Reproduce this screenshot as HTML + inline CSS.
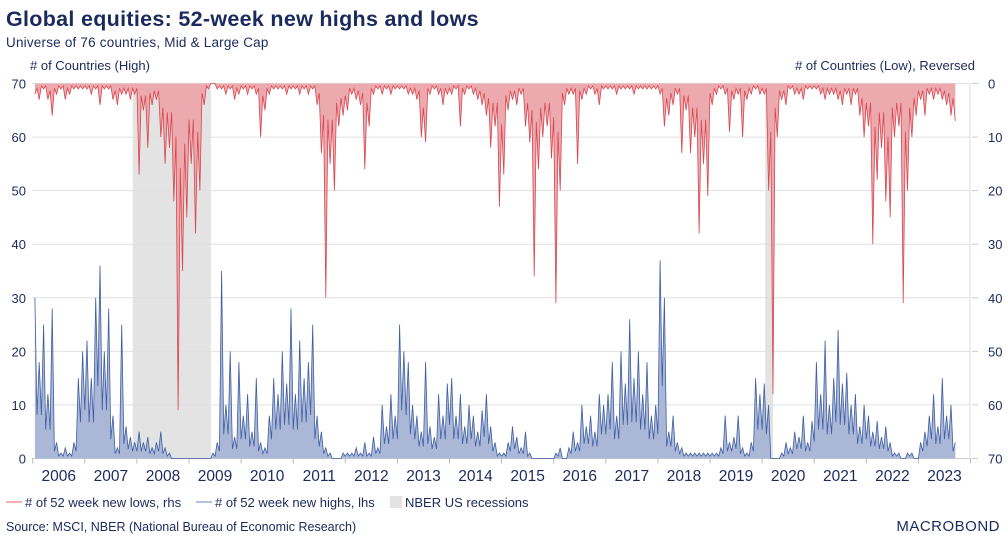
<!DOCTYPE html>
<html><head><meta charset="utf-8"><style>
body{margin:0;background:#fff;width:1008px;height:542px;overflow:hidden;font-family:"Liberation Sans",sans-serif;}
svg text{font-family:"Liberation Sans",sans-serif;}
</style></head><body>
<svg id="chart" width="1008" height="542" viewBox="0 0 1008 542">
<text x="6" y="26" font-size="21.5" font-weight="bold" fill="#1b2a5c" letter-spacing="0.3">Global equities: 52-week new highs and lows</text>
<text x="6" y="47" font-size="13.5" fill="#1b2a5c" letter-spacing="0.2">Universe of 76 countries, Mid &amp; Large Cap</text>
<text x="30" y="70" font-size="13" fill="#1b2a5c"># of Countries (High)</text>
<text x="975" y="70" font-size="13" fill="#1b2a5c" text-anchor="end"># of Countries (Low), Reversed</text>
<g id="plot"></g>
<g>
<line x1="6" y1="502" x2="22" y2="502" stroke="#e0606a" stroke-width="1"/>
<text x="25" y="507" font-size="13" fill="#1b2a5c"># of 52 week new lows, rhs</text>
<line x1="196" y1="502" x2="212" y2="502" stroke="#6d84bb" stroke-width="1"/>
<text x="215" y="507" font-size="13" fill="#1b2a5c"># of 52 week new highs, lhs</text>
<rect x="390" y="496" width="12" height="12" fill="#e3e3e3"/>
<text x="405" y="507" font-size="13" fill="#1b2a5c">NBER US recessions</text>
</g>
<text x="6" y="531" font-size="12.5" fill="#1b2a5c">Source: MSCI, NBER (National Bureau of Economic Research)</text>
<text x="1000" y="531" font-size="15" fill="#1b2a5c" text-anchor="end" letter-spacing="0.5">MACROBOND</text>
</svg>
<script>
const years=["2006","2007","2008","2009","2010","2011","2012","2013","2014","2015","2016","2017","2018","2019","2020","2021","2022","2023"];
const leftTicks=[0,10,20,30,40,50,60,70];
const rightTicks=[0,10,20,30,40,50,60,70];
const recessions=[[2007.92,2009.42],[2020.06,2020.21]];
const highs=[30,18,25,12,28,3,1,2,1,3,15,20,
22,15,30,36,20,28,8,2,25,6,4,3,
5,3,4,2,3,5,2,1,0,0,0,0,
0,0,0,0,0,1,3,35,10,20,4,18,
8,12,5,15,3,2,8,15,12,20,14,28,
12,22,15,18,25,8,5,2,1,0,0,1,
1,1,2,1,3,1,4,2,10,6,12,8,
25,20,18,10,8,5,18,6,4,12,8,14,
15,8,12,6,10,8,5,9,12,6,3,1,
1,3,6,4,2,5,1,0,0,0,0,0,
1,2,0,2,5,3,10,6,8,5,12,10,
12,18,8,20,14,26,15,20,12,18,8,10,
37,30,5,8,3,2,1,1,1,1,1,1,
1,1,2,8,3,4,8,2,1,3,15,12,
14,10,0,0,1,3,2,5,4,8,3,7,
18,12,22,10,15,24,14,16,10,12,6,10,
8,5,7,4,6,3,1,1,0,1,1,0,
3,5,8,12,6,15,8,10,3];
const lows=[2,3,1,3,6,2,1,3,2,1,1,1,
1,2,1,4,1,1,3,4,2,2,3,2,
17,5,12,4,3,10,15,12,22,61,35,25,
15,28,20,4,1,0,1,1,2,1,3,2,
1,2,1,2,10,5,2,1,1,1,2,1,
1,2,1,2,1,4,13,40,15,20,8,6,
5,2,3,4,16,8,2,1,2,1,2,1,
1,1,2,2,3,10,11,2,1,2,4,2,
2,1,8,2,1,2,3,4,6,12,8,23,
17,5,3,4,2,8,11,36,16,10,8,14,
41,20,4,2,2,15,3,2,1,2,4,1,
1,1,2,1,1,1,2,1,1,1,1,1,
2,8,6,4,2,13,5,13,10,28,15,21,
4,2,1,2,9,3,2,10,3,2,1,2,
2,20,58,10,3,4,1,2,2,3,1,1,
1,2,3,2,2,3,4,2,4,2,6,10,
8,30,18,12,22,25,10,8,41,20,10,6,
3,6,2,3,2,3,4,6,7];

const NS="http://www.w3.org/2000/svg";
const X0=32.7,PX=52.1,YT=83.5,YB=458.5,PL=32,PR=962;
const xs=t=>X0+(t-2006)*PX;
const yL=v=>YB-v*(YB-YT)/70;
const yR=v=>YT+v*(YB-YT)/70;
const g=document.getElementById('plot');
function mk(tag,attrs){const e=document.createElementNS(NS,tag);for(const k in attrs)e.setAttribute(k,attrs[k]);g.appendChild(e);return e;}

recessions.forEach(r=>{
 const e=mk('rect',{x:xs(r[0]),y:YT,width:xs(r[1])-xs(r[0]),height:YB-YT,fill:'#e3e3e3'});
 
 
});
leftTicks.forEach(v=>{
 const l=mk('line',{x1:PL,x2:PR+8,y1:yL(v),y2:yL(v),stroke:'#e0e0e0','stroke-width':1});
 
 
 const t=mk('text',{x:26,y:yL(v)+5,'font-size':13,fill:'#1b2a5c','text-anchor':'end'});
 t.textContent=v;
 
 
});
rightTicks.forEach(v=>{
 const t=mk('text',{x:988,y:yR(v)+5,'font-size':13,fill:'#1b2a5c'});
 t.textContent=v;
 
 
 mk('line',{x1:972,x2:978,y1:yR(v),y2:yR(v),stroke:'#ccc'});
});
mk('line',{x1:PR+8,x2:PR+8,y1:YT,y2:YB,stroke:'#ddd'});
mk('line',{x1:PL,x2:PR+8,y1:YB,y2:YB,stroke:'#ccc'});
years.forEach((y,i)=>{
 const t0=2006+i;
 mk('line',{x1:xs(t0),x2:xs(t0),y1:YB,y2:YB+5,stroke:'#bbb'});
 const t=mk('text',{x:xs(t0+0.5),y:481,'font-size':15.5,fill:'#1b2a5c','text-anchor':'middle'});
 t.textContent=y;
 
 
});
mk('line',{x1:xs(2024),x2:xs(2024),y1:YB,y2:YB+5,stroke:'#bbb'});

function series(vals,yf,base,fill,stroke,name){
 const n=vals.length;
 let pts=[];
 vals.forEach((v,i)=>{
  const x=xs(2006+(i+0.5)/12);
  pts.push([x,yf(v)]);
  if(i<n-1){
   const tr=0.45*Math.min(v,vals[i+1]);
   pts.push([x+PX/24,yf(tr)]);
  }
 });
 let d='M'+pts[0][0].toFixed(1)+','+base;
 let s='';
 pts.forEach((p,i)=>{d+=' L'+p[0].toFixed(1)+','+p[1].toFixed(1);s+=(i?' L':'M')+p[0].toFixed(1)+','+p[1].toFixed(1);});
 d+=' L'+pts[pts.length-1][0].toFixed(1)+','+base+' Z';
 const a=mk('path',{d:d,fill:fill,stroke:'none'});
 
 
 const l=mk('path',{d:s,fill:'none',stroke:stroke,'stroke-width':0.8,'stroke-linejoin':'miter'});
 
 
}
series(highs,yL,YB,'#aab7d7','#3f5ea3','highs-series');
series(lows,yR,YT,'#eca9ae','#d9464f','lows-series');
</script>
</body></html>
